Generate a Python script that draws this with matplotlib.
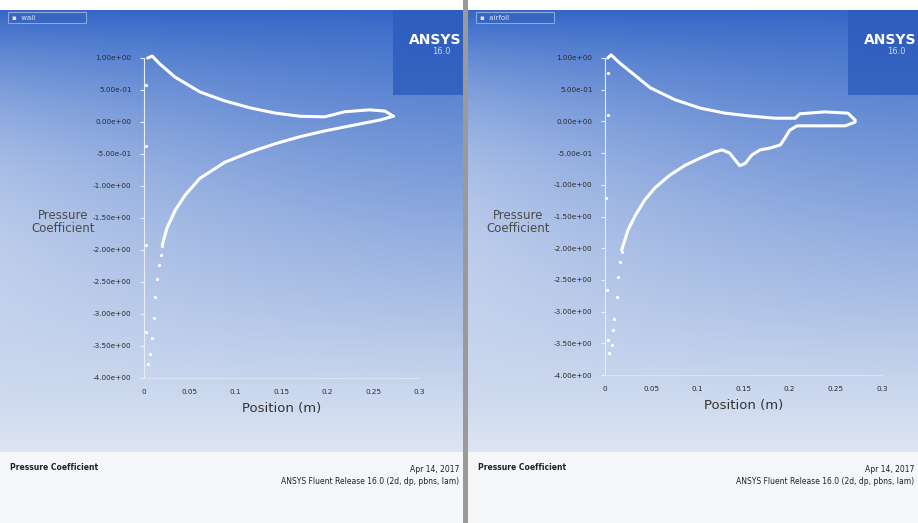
import numpy as np
import matplotlib
matplotlib.use("Agg")
import matplotlib.pyplot as plt
from matplotlib.patches import Rectangle

# ===== DATA =====
y_ticks = [1.0, 0.5, 0.0, -0.5, -1.0, -1.5, -2.0, -2.5, -3.0, -3.5, -4.0]
y_tick_labels = ["1.00e+00", "5.00e-01", "0.00e+00", "-5.00e-01", "-1.00e+00",
                 "-1.50e+00", "-2.00e+00", "-2.50e+00", "-3.00e+00",
                 "-3.50e+00", "-4.00e+00"]
x_ticks = [0, 0.05, 0.1, 0.15, 0.2, 0.25, 0.3]
x_tick_labels = ["0", "0.05", "0.1", "0.15", "0.2", "0.25", "0.3"]

# left panel (plain airfoil)
left_upper_x = [0.004, 0.009, 0.017, 0.034, 0.061, 0.088, 0.116, 0.143, 0.170,
                0.197, 0.219, 0.246, 0.263, 0.272]
left_upper_y = [1.00, 1.03, 0.91, 0.70, 0.47, 0.33, 0.22, 0.14, 0.09,
                0.08, 0.16, 0.19, 0.17, 0.09]
left_lower_x = [0.272, 0.257, 0.225, 0.197, 0.170, 0.143, 0.116, 0.088, 0.061,
                0.045, 0.034, 0.025, 0.020]
left_lower_y = [0.09, 0.03, -0.06, -0.14, -0.23, -0.34, -0.47, -0.63, -0.88,
                -1.14, -1.38, -1.66, -1.92]
left_le_x = [0.020, 0.018, 0.016, 0.014, 0.012, 0.011, 0.009, 0.006, 0.004]
left_le_y = [-1.94, -2.08, -2.24, -2.45, -2.73, -3.07, -3.38, -3.62, -3.78]
left_axis_x = [0.002, 0.002, 0.002, 0.002]
left_axis_y = [0.58, -0.38, -1.92, -3.28]

# right panel (modified airfoil)
right_upper_x = [0.003, 0.0065, 0.016, 0.033, 0.049, 0.076, 0.103, 0.130, 0.157,
                 0.184, 0.206, 0.211, 0.238, 0.263, 0.271]
right_upper_y = [1.00, 1.05, 0.92, 0.72, 0.53, 0.34, 0.21, 0.13, 0.085,
                 0.05, 0.05, 0.12, 0.15, 0.13, 0.02]
right_lower_x = [0.271, 0.260, 0.233, 0.208, 0.200, 0.195, 0.190, 0.179, 0.168,
                 0.159, 0.152, 0.146, 0.141, 0.135, 0.127, 0.119, 0.103, 0.087,
                 0.070, 0.054, 0.043, 0.033, 0.025, 0.018]
right_lower_y = [-0.01, -0.07, -0.07, -0.07, -0.14, -0.26, -0.37, -0.42, -0.45,
                 -0.53, -0.66, -0.70, -0.61, -0.50, -0.45, -0.48, -0.58, -0.69,
                 -0.85, -1.05, -1.24, -1.48, -1.71, -2.03]
right_le_x = [0.018, 0.016, 0.014, 0.013, 0.010, 0.009, 0.008, 0.004]
right_le_y = [-2.06, -2.22, -2.45, -2.77, -3.12, -3.29, -3.53, -3.65]
right_axis_x = [0.003, 0.003, 0.001, 0.002, 0.003]
right_axis_y = [0.76, 0.10, -1.21, -2.66, -3.45]

W, H = 918, 523
fig = plt.figure(figsize=(W / 100, H / 100), dpi=100)
fig.patch.set_facecolor("white")


def fx(px):
    return px / W


def fy(py):
    return 1 - py / H


# ===== BACKGROUND =====
def background(x0, x1, zone):
    bg = fig.add_axes([fx(x0), 0, fx(x1 - x0), 1])
    w, h = x1 - x0, H
    yy, xx = np.mgrid[0:h, 0:w]
    t = np.clip((yy - 10) / 440.0, 0, 1)[..., None]
    s = (xx / w)[..., None]
    top = np.array([0.20, 0.40, 0.78])
    bot = np.array([0.87, 0.90, 0.95])
    img = top * (1 - t ** 0.85) + bot * t ** 0.85
    light = 0.36 * (1 - s) ** 1.5 * np.sin(np.pi * np.clip(t * 1.1, 0, 1))
    img = img + (1 - img) * light
    img[yy >= 452] = np.array([0.96, 0.965, 0.975])
    img[yy < 10] = 1.0
    bg.imshow(img, aspect="auto", extent=[0, w, h, 0])
    bg.set_xlim(0, w)
    bg.set_ylim(h, 0)
    bg.axis("off")
    # zone label box
    bg.add_patch(Rectangle((8, 12), 78, 11, facecolor="#3a66c2",
                           edgecolor="#8aa8dd", lw=0.8))
    bg.text(12, 17.5, "\u25aa  " + zone, color="#dfe8f8", fontsize=5,
            va="center", ha="left")
    # ANSYS logo block
    bg.add_patch(Rectangle((w - 70, 10), 70, 85, facecolor="#2c5bbd",
                           edgecolor="none", alpha=0.8))
    bg.text(w - 28, 40, "ANSYS", color="white", fontsize=10,
            fontweight="bold", ha="center", va="center")
    bg.text(w - 12, 52, "16.0", color="#c8d6f0", fontsize=6,
            ha="right", va="center")
    # footer
    bg.text(10, 467, "Pressure Coefficient", fontsize=5.5, fontweight="bold",
            color="#222222", ha="left", va="center")
    bg.text(w - 4, 470, "Apr 14, 2017", fontsize=5.5, color="#222222",
            ha="right", va="center")
    bg.text(w - 4, 481, "ANSYS Fluent Release 16.0 (2d, dp, pbns, lam)",
            fontsize=5.5, color="#222222", ha="right", va="center")
    return bg


background(0, 463, "wall")
background(468, 918, "airfoil")
div = fig.add_axes([fx(463), 0, fx(5), 1])
div.add_patch(Rectangle((0, 0), 1, 1, facecolor="#9a9a9a"))
div.axis("off")


# ===== PLOT PANELS =====
def panel(x0, x1, y_top, y_bot, label_x, series):
    ax = fig.add_axes([fx(x0), fy(y_bot), fx(x1 - x0), fy(y_top) - fy(y_bot)])
    ax.patch.set_alpha(0)
    ax.set_xlim(0, 0.3)
    ax.set_ylim(-4.0, 1.0)
    for sp in ["top", "right"]:
        ax.spines[sp].set_visible(False)
    ax.spines["left"].set_color("#e8eef8")
    ax.spines["left"].set_linewidth(0.8)
    ax.spines["bottom"].set_color("#dfe5ee")
    ax.spines["bottom"].set_linewidth(0.6)
    ax.set_yticks(y_ticks)
    ax.set_yticklabels(y_tick_labels, fontsize=5.2, color="#2a2a2a")
    ax.set_xticks(x_ticks)
    ax.set_xticklabels(x_tick_labels, fontsize=5.2, color="#2a2a2a")
    ax.tick_params(axis="y", length=3, color="#e8eef8", pad=6)
    ax.tick_params(axis="x", length=0, pad=8)
    ux, uy, lx, ly, ex, ey, ax_x, ax_y = series
    ax.plot(ux, uy, color="white", lw=2.2, solid_capstyle="round", clip_on=False)
    ax.plot(lx, ly, color="white", lw=2.2, solid_capstyle="round", clip_on=False)
    ax.plot(ex, ey, "o", color="white", ms=2.3, mec="none", clip_on=False)
    ax.plot(ax_x, ax_y, "o", color="white", ms=2.3, mec="none", clip_on=False)
    ax.set_xlabel("Position (m)", fontsize=9.5, color="#333333", labelpad=5)
    fig.text(fx(label_x), fy(222), "Pressure\nCoefficient", fontsize=8.5,
             color="#4a4a4a", ha="center", va="center", linespacing=1.0)
    return ax


panel(144, 419, 58, 378, 63,
      (left_upper_x, left_upper_y, left_lower_x, left_lower_y,
       left_le_x, left_le_y, left_axis_x, left_axis_y))
panel(605, 882, 58, 375, 518,
      (right_upper_x, right_upper_y, right_lower_x, right_lower_y,
       right_le_x, right_le_y, right_axis_x, right_axis_y))

fig.savefig("out.png", dpi=100)
